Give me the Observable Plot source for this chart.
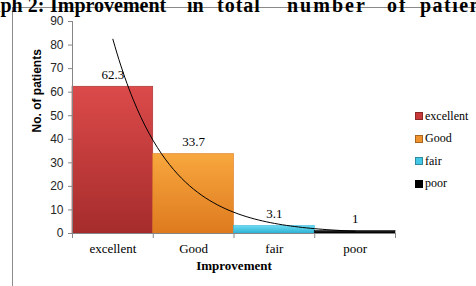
<!DOCTYPE html>
<html>
<head>
<meta charset="utf-8">
<script src="https://cdn.jsdelivr.net/npm/d3@7"></script>
<script src="https://cdn.jsdelivr.net/npm/@observablehq/plot@0.6"></script>
<style>
  html, body { margin: 0; padding: 0; background: #fff; }
  #wrap { position: relative; width: 476px; height: 286px; overflow: hidden; background: #fff; }
  #title { position: absolute; top: -6px; left: 0; width: 476px; height: 22px; line-height: 22px;
           font-family: "Liberation Serif", serif; font-weight: bold; font-size: 20px; color: #000; }
  #title span { position: absolute; top: 0; white-space: nowrap; }
  #frame { position: absolute; left: 12px; top: 7px; width: 600px; height: 400px;
           border-left: 1px solid #8a8a8a; border-top: 1px solid #8a8a8a; }
  #chart { position: absolute; left: 0; top: 0; }
  #legend { position: absolute; left: 415px; top: 105px; font-family: "Liberation Serif", serif;
            font-size: 12px; color: #000; }
  .li { height: 22.5px; display: flex; align-items: center; }
  .sw { width: 6px; height: 6px; margin-right: 2px; border: 0.5px solid rgba(0,0,0,0.3); }
</style>
</head>
<body>
<div id="wrap">
  <div id="frame"></div>
  <div id="title"><span style="left:-34px">Graph 2:</span><span style="left:50px">Improvement</span><span style="left:187px">in</span><span style="left:217px;letter-spacing:1px">total</span><span style="left:287px;letter-spacing:2px">number</span><span style="left:387px;letter-spacing:2px">of</span><span style="left:420px;letter-spacing:1.5px">patients</span></div>
  <div id="chart"></div>
  <div id="legend"></div>
</div>
<script>
const categories = ["excellent", "Good", "fair", "poor"];
const values = [62.3, 33.7, 3.1, 1];
const colors = ["#c83a3a", "#f0922e", "#45c8e6", "#000000"];
const gradTop = ["#dc4a4a", "#f8a73e", "#6ad9f0", "#222222"];
const gradBot = ["#a62c2c", "#de7a1f", "#2fb4d6", "#000000"];
const yTicks = [0, 10, 20, 30, 40, 50, 60, 70, 80, 90];

const rows = categories.map((c, i) => ({cat: c, i: i + 1, v: values[i]}));

// Exponential trendline (least squares on ln y), as a spreadsheet trendline does
const xs = rows.map(r => r.i), ls = rows.map(r => Math.log(r.v));
const mx = d3.mean(xs), ml = d3.mean(ls);
const b = d3.sum(xs.map((x, k) => (x - mx) * (ls[k] - ml))) / d3.sum(xs.map(x => (x - mx) ** 2));
const a = Math.exp(ml - b * mx);
const trend = d3.range(1, 4.0001, 0.05).map(x => ({x, y: a * Math.exp(b * x)}));

const serif = "Liberation Serif, serif";
const sans = "Liberation Sans, sans-serif";

const chart = Plot.plot({
  width: 476, height: 286,
  marginLeft: 72, marginRight: 81, marginTop: 21, marginBottom: 53,
  style: {background: "transparent", overflow: "visible"},
  x: {domain: [0.5, 4.5]},
  y: {domain: [0, 90]},
  marks: [
    Plot.rect(rows, {x1: d => d.i - 0.5, x2: d => d.i + 0.5, y1: 0, y2: "v",
      fill: d => `url(#grad${d.i})`, stroke: d => gradBot[d.i - 1], strokeWidth: 0.6}),
    Plot.ruleY([0], {stroke: "#868686"}),
    Plot.ruleX([0.5], {stroke: "#868686"}),
    Plot.axisY({ticks: yTicks, tickSize: 4, tickPadding: 5, label: null, stroke: "#868686",
      fill: "#262626", fontFamily: sans, fontSize: 12}),
    Plot.axisX({ticks: [0.5, 1.5, 2.5, 3.5, 4.5], tickSize: 5, tickFormat: () => "", label: null, stroke: "#868686"}),
    Plot.axisX({ticks: [1, 2, 3, 4], tickSize: 0, tickPadding: 10, tickFormat: d => categories[d - 1],
      label: null, fill: "#000", fontFamily: serif, fontSize: 13}),
    Plot.line(trend, {x: "x", y: "y", stroke: "#000", strokeWidth: 1, curve: "natural"}),
    Plot.text(rows, {x: "i", y: "v", text: d => String(d.v), dy: -12, fontFamily: serif, fontSize: 13, fill: "#000"}),
    Plot.text(["No. of patients"], {frameAnchor: "left", dx: -35, dy: 5, rotate: -90,
      fontFamily: sans, fontWeight: "bold", fontSize: 12, fill: "#000"}),
    Plot.text(["Improvement"], {frameAnchor: "bottom", dy: 36, fontFamily: serif, fontWeight: "bold", fontSize: 13, fill: "#000"})
  ]
});

// gradient definitions for the bars
const defs = d3.select(chart).insert("defs", ":first-child");
rows.forEach(r => {
  const g = defs.append("linearGradient").attr("id", "grad" + r.i)
    .attr("x1", 0).attr("y1", 0).attr("x2", 0).attr("y2", 1);
  g.append("stop").attr("offset", "0%").attr("stop-color", gradTop[r.i - 1]);
  g.append("stop").attr("offset", "100%").attr("stop-color", gradBot[r.i - 1]);
});

document.getElementById("chart").appendChild(chart);

const legend = d3.select("#legend");
categories.forEach((c, i) => {
  const item = legend.append("div").attr("class", "li");
  item.append("div").attr("class", "sw").style("background", colors[i]);
  item.append("span").text(c);
});
</script>
</body>
</html>
